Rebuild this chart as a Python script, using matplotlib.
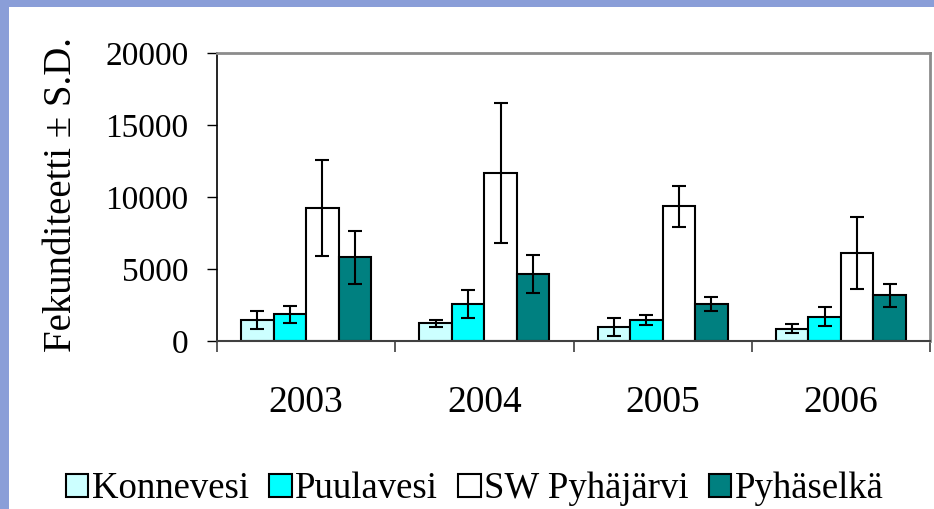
import numpy as np
import matplotlib
matplotlib.use("Agg")
from matplotlib import pyplot as plt
from matplotlib.patches import Rectangle

# data
years = ["2003", "2004", "2005", "2006"]
lakes = ["Konnevesi", "Puulavesi", "SW Pyhäjärvi", "Pyhäselkä"]
konnevesi = [1450, 1220, 990, 860]
konnevesi_sd = [620, 250, 615, 310]
puulavesi = [1850, 2560, 1460, 1700]
puulavesi_sd = [610, 980, 370, 680]
sw_pyhajarvi = [9250, 11690, 9350, 6090]
sw_pyhajarvi_sd = [3340, 4870, 1400, 2490]
pyhaselka = [5830, 4650, 2560, 3170]
pyhaselka_sd = [1840, 1290, 500, 790]

colors = ["#ccffff", "#00ffff", "#ffffff", "#008080"]

plt.rcParams['font.family'] = ['Liberation Serif', 'DejaVu Serif']

fig = plt.figure(figsize=(9.34, 5.09), dpi=100, facecolor="#8a9ed8")
# white slide area
fig.patches.append(Rectangle((9 / 934, 0), 1, 1 - 7 / 509, transform=fig.transFigure,
                             facecolor="white", edgecolor="none", zorder=-10))

ax = fig.add_axes([217 / 934, 1 - 341 / 509, 713 / 934, 288 / 509])
ax.set_zorder(1)
ax.set_facecolor("white")

x = np.arange(len(years))
w = 0.182
series = [(konnevesi, konnevesi_sd), (puulavesi, puulavesi_sd),
          (sw_pyhajarvi, sw_pyhajarvi_sd), (pyhaselka, pyhaselka_sd)]
for i, (vals, sd) in enumerate(series):
    ax.bar(x + (i - 1.5) * w, vals, w, color=colors[i], edgecolor="black",
           linewidth=1.5, label=lakes[i], zorder=2,
           yerr=sd, error_kw=dict(ecolor="black", elinewidth=1.5, capsize=5, capthick=1.5, zorder=3))

ax.set_xlim(-0.5, 3.5)
ax.set_ylim(0, 20000)
ax.set_yticks([0, 5000, 10000, 15000, 20000])
ax.tick_params(axis="y", direction="out", length=7.5, width=1, labelsize=24, pad=13)
ax.set_xticks(x)
ax.set_xticklabels(years, fontsize=27)
ax.tick_params(axis="x", which="major", length=0, pad=32)
ax.set_xticks(np.arange(-0.5, 4, 1), minor=True)
ax.tick_params(axis="x", which="minor", direction="out", length=8, width=1.2, color="#404040")

ax.spines["left"].set_color("black")
ax.spines["left"].set_linewidth(1.2)
ax.spines["bottom"].set_color("#404040")
ax.spines["bottom"].set_linewidth(1.5)
for s in ["top", "right"]:
    ax.spines[s].set_color("#8c8c8c")
    ax.spines[s].set_linewidth(2)

fig.text(62 / 934, 1 - 195 / 509, "Fekunditeetti ± S.D.", rotation=90,
         ha="center", va="center", fontsize=28)

fig.legend(loc="center", bbox_to_anchor=(475 / 934, 1 - 489 / 509), ncol=4, frameon=False,
           fontsize=26.5, handlelength=0.6, handleheight=0.6, handletextpad=0.1,
           columnspacing=0.55, borderpad=0)

fig.savefig("out.png", dpi=100, facecolor=fig.get_facecolor())
